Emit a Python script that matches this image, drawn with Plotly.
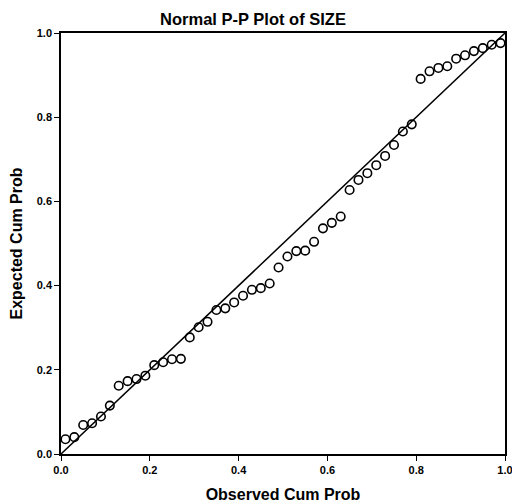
import plotly.graph_objects as go

observed = [0.01, 0.03, 0.05, 0.07, 0.09, 0.11, 0.13, 0.15, 0.17, 0.19,
            0.21, 0.23, 0.25, 0.27, 0.29, 0.31, 0.33, 0.35, 0.37, 0.39,
            0.41, 0.43, 0.45, 0.47, 0.49, 0.51, 0.53, 0.55, 0.57, 0.59,
            0.61, 0.63, 0.65, 0.67, 0.69, 0.71, 0.73, 0.75, 0.77, 0.79,
            0.81, 0.83, 0.85, 0.87, 0.89, 0.91, 0.93, 0.95, 0.97, 0.99]
expected = [0.035, 0.040, 0.069, 0.073, 0.089, 0.115, 0.162, 0.173, 0.178, 0.186,
            0.211, 0.218, 0.225, 0.226, 0.277, 0.301, 0.314, 0.342, 0.346, 0.360,
            0.376, 0.390, 0.394, 0.405, 0.443, 0.469, 0.482, 0.483, 0.504, 0.536,
            0.549, 0.564, 0.627, 0.651, 0.667, 0.686, 0.708, 0.734, 0.766, 0.783,
            0.891, 0.909, 0.917, 0.921, 0.939, 0.947, 0.957, 0.964, 0.972, 0.976]
ref_line = [0.0, 1.0]
tick_vals = [0.0, 0.2, 0.4, 0.6, 0.8, 1.0]

font_family = "Liberation Sans, Arial, sans-serif"

W, H = 512, 503

fig = go.Figure()
fig.add_trace(go.Scatter(x=ref_line, y=ref_line, mode="lines",
                         line=dict(color="black", width=1.5),
                         showlegend=False, hoverinfo="skip", cliponaxis=False))
fig.add_trace(go.Scatter(x=observed, y=expected, mode="markers",
                         marker=dict(symbol="circle-open", size=8.5,
                                     color="black", line=dict(width=1.6)),
                         showlegend=False, cliponaxis=False))

axis_common = dict(range=[0, 1], tickvals=tick_vals, tickformat=".1f",
                   showline=True, linecolor="black", linewidth=1.5, mirror=True,
                   ticks="outside", ticklen=5, tickwidth=1.3, tickcolor="black",
                   showgrid=False, zeroline=False, automargin=False,
                   ticklabeloverflow="allow",
                   tickfont=dict(family=font_family, size=11, color="black", weight="bold"))

fig.update_layout(
    width=W, height=H,
    margin=dict(l=61, r=7, t=33, b=49, autoexpand=False),
    paper_bgcolor="white", plot_bgcolor="white",
    title=dict(text="Normal P-P Plot of SIZE", x=253 / W, xanchor="center",
               xref="container", y=1 - 19 / H, yanchor="middle", yref="container",
               font=dict(family=font_family, size=16.5, color="black", weight="bold")),
    xaxis=dict(**axis_common,
               title=dict(text="Observed Cum Prob", standoff=14,
                          font=dict(family=font_family, size=16, color="black", weight="bold"))),
    yaxis=dict(**axis_common,
               title=dict(text="Expected Cum Prob", standoff=10,
                          font=dict(family=font_family, size=16, color="black", weight="bold"))),
)

# remove the browser's default 8px body margin so the figure fills the window
fig.write_html("out.html",
               config={"displayModeBar": False},
               post_script="document.body.style.margin='0';document.body.style.overflow='hidden';")
